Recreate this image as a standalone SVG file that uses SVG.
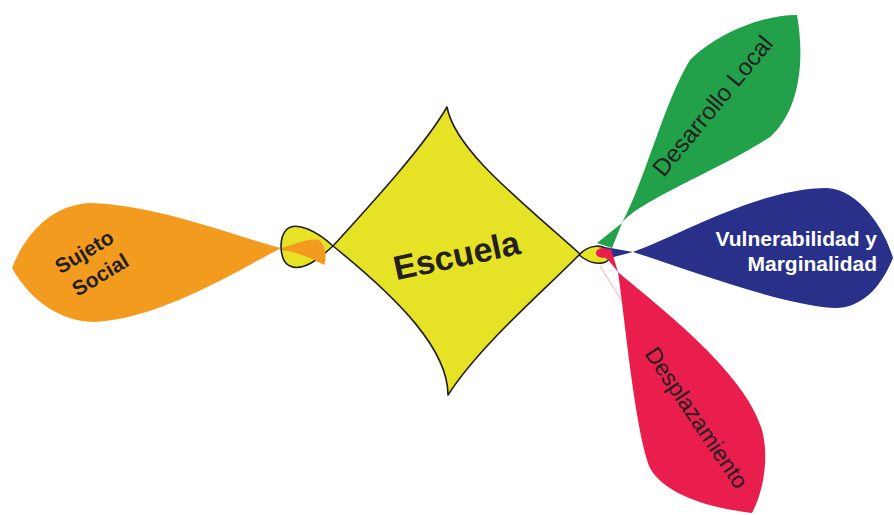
<svg xmlns="http://www.w3.org/2000/svg" width="894" height="515" viewBox="0 0 894 515">
<style>
.lbl{font-family:"Liberation Sans",Arial,sans-serif;fill:#231f20}
.b{font-weight:bold}
.w{fill:#ffffff}
.out{stroke:#231f20;stroke-width:1.6;stroke-linejoin:round}
</style>
<rect width="894" height="515" fill="#ffffff"/>
<g id="connectors">
<path class="out" d="M333,246 C318,232 296,220 286,230 C278,240 280,262 290,266 C303,272 320,258 333,246 Z" fill="#e6e225"/>
<path d="M282,248 C295,244 310,238 319,240 C326,246 327,258 324,265 C312,258 296,252 282,250 Z" fill="#f39b1f"/>
<path class="out" d="M579,255 C588,245 604,242 610,254 C612,264 595,268 579,255 Z" fill="#e6e225"/>
<path d="M622,223 L597,243 L612,248 Z" fill="#22a14a"/>
<path d="M633,252 L605,247 L606,259 Z" fill="#28308a"/>
<ellipse cx="603" cy="253" rx="7" ry="5" fill="#e91e4d"/>
<path d="M618,272 L600,250 L611,249 Z" fill="#e91e4d"/>
<path d="M600,266 L623,303" stroke="#f2a3ab" stroke-width="0.9" fill="none"/>
</g>
<g id="sujeto-social">
<path d="M281,248 C240,238 160,205 90,203 C50,205 25,235 12,268 C30,300 60,322 95,322 C160,318 230,275 281,248 Z" fill="#f39b1f"/>
<text class="lbl b" font-size="21" text-anchor="middle" transform="translate(88,258) rotate(-31)">Sujeto</text>
<text class="lbl b" font-size="21" text-anchor="middle" transform="translate(104,281) rotate(-31)">Social</text>
</g>
<g id="escuela">
<path class="out" d="M447,107 C455,150 520,200 580,254 C545,290 480,345 448,395 C448,350 400,300 333,246 C375,200 425,145 447,107 Z" fill="#e6e225"/>
<text class="lbl b" font-size="34" text-anchor="middle" transform="translate(459,267) rotate(-12)">Escuela</text>
</g>
<g id="desarrollo-local">
<path d="M622,223 C640,200 720,170 770,137 C800,110 805,60 797,15 C760,15 715,35 690,60 C665,100 645,180 622,223 Z" fill="#22a14a"/>
<text class="lbl" font-size="24" text-anchor="middle" transform="translate(719,111) rotate(-50.5)">Desarrollo Local</text>
</g>
<g id="vulnerabilidad">
<path d="M633,252 C680,235 760,188 827,188 C860,190 885,230 893,258 C880,290 860,308 835,308 C780,305 690,270 633,252 Z" fill="#28308a"/>
<text class="lbl b w" font-size="21" text-anchor="end" x="877" y="246">Vulnerabilidad y</text>
<text class="lbl b w" font-size="21" text-anchor="end" x="877" y="271">Marginalidad</text>
</g>
<g id="desplazamiento">
<path d="M618,272 C650,300 745,370 762,430 C770,460 762,495 752,513 C710,508 665,495 650,468 C635,430 625,320 618,272 Z" fill="#e91e4d"/>
<text class="lbl" font-size="23" text-anchor="middle" transform="translate(690,422) rotate(56)">Desplazamiento</text>
</g>
</svg>
